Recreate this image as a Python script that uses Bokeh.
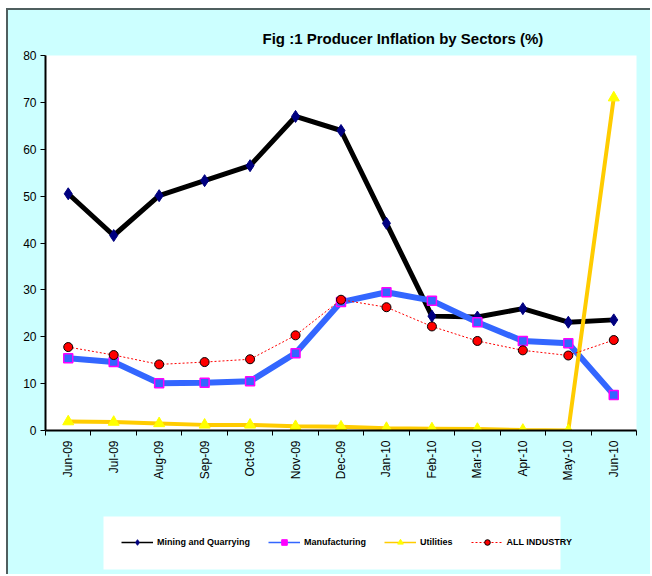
import math
from bokeh.plotting import figure
from bokeh.models import FixedTicker, Legend, LegendItem, Range1d, BoxAnnotation
from bokeh.layouts import column
from bokeh.embed import file_html
from bokeh.resources import INLINE

months = ["Jun-09", "Jul-09", "Aug-09", "Sep-09", "Oct-09", "Nov-09", "Dec-09",
          "Jan-10", "Feb-10", "Mar-10", "Apr-10", "May-10", "Jun-10"]
mining = [50.5, 41.6, 50.1, 53.3, 56.5, 67.0, 64.0, 44.2, 24.4, 24.2, 26.0, 23.1, 23.6]
manufacturing = [15.4, 14.6, 10.1, 10.2, 10.5, 16.5, 27.4, 29.5, 27.7, 23.1, 19.1, 18.6, 7.6]
utilities = [1.9, 1.8, 1.5, 1.2, 1.2, 0.9, 0.8, 0.5, 0.4, 0.3, 0.1, 0.0, 71.0]
all_industry = [17.8, 16.1, 14.1, 14.6, 15.2, 20.3, 27.9, 26.3, 22.2, 19.1, 17.1, 16.0, 19.3]
series_names = ["Mining and Quarrying", "Manufacturing", "Utilities", "ALL INDUSTRY"]
y_ticks = [0, 10, 20, 30, 40, 50, 60, 70, 80]

x = list(range(len(months)))
FONT = "Liberation Sans"
CYAN = "#CCFFFF"

p = figure(width=642, height=500, output_backend="svg", toolbar_location=None,
           x_range=Range1d(-0.5, len(months) - 0.5), y_range=Range1d(0, 80),
           min_border_left=37, min_border_right=14, min_border_top=45, min_border_bottom=80,
           background_fill_color="white", border_fill_color=CYAN,
           outline_line_color=None,
           title="Fig :1 Producer Inflation by Sectors (%)")

p.title.align = "left"
p.title.offset = 217
p.title.text_font = FONT
p.title.text_font_size = "15px"
p.title.text_font_style = "bold"
p.title.text_color = "black"
p.title.standoff = 17

p.xgrid.visible = False
p.ygrid.visible = False

# y axis
p.yaxis.ticker = FixedTicker(ticks=y_ticks)
p.yaxis.axis_line_color = "black"
p.yaxis.axis_line_width = 2
p.yaxis.major_tick_out = 5
p.yaxis.major_tick_in = 0
p.yaxis.minor_tick_line_color = None
p.yaxis.major_label_text_font = FONT
p.yaxis.major_label_text_font_size = "12px"
p.yaxis.major_label_text_color = "black"
p.yaxis.major_label_standoff = 4

# x axis
p.xaxis.ticker = FixedTicker(ticks=x, minor_ticks=[i - 0.5 for i in range(len(months) + 1)])
p.xaxis.major_label_overrides = {i: m for i, m in enumerate(months)}
p.xaxis.major_tick_line_color = None
p.xaxis.major_tick_out = 5
p.xaxis.minor_tick_line_color = "black"
p.xaxis.minor_tick_out = 5
p.xaxis.minor_tick_in = 0
p.xaxis.axis_line_color = "black"
p.xaxis.axis_line_width = 2
p.xaxis.major_label_orientation = math.pi / 2
p.xaxis.major_label_text_font = FONT
p.xaxis.major_label_text_font_size = "12px"
p.xaxis.major_label_text_color = "black"
p.xaxis.major_label_standoff = 5

styles = [
    dict(line=dict(line_color="black", line_width=5),
         marker=dict(marker="diamond", size=12, fill_color="#000080", line_color="#000080")),
    dict(line=dict(line_color="#3366FF", line_width=6),
         marker=dict(marker="square", size=9, fill_color="#3366FF", line_color="#FF00FF", line_width=1.5)),
    dict(line=dict(line_color="#FFCC00", line_width=4),
         marker=dict(marker="triangle", size=11, fill_color="#FFFF00", line_color="#FFFF00")),
    dict(line=dict(line_color="#FF0000", line_width=1, line_dash="2 2"),
         marker=dict(marker="circle", size=9, fill_color="#FF0000", line_color="black", line_width=1)),
]
legend_styles = [
    dict(line=dict(line_color="black", line_width=1.5),
         marker=dict(marker="diamond", size=8, fill_color="#000080", line_color="#000080")),
    dict(line=dict(line_color="#3366FF", line_width=1.5),
         marker=dict(marker="square", size=6, fill_color="#FF00FF", line_color="#FF00FF")),
    dict(line=dict(line_color="#FFCC00", line_width=1.5),
         marker=dict(marker="triangle", size=7, fill_color="#FFFF00", line_color="#FFFF00")),
    dict(line=dict(line_color="#FF0000", line_width=1, line_dash="2 2"),
         marker=dict(marker="circle", size=6, fill_color="#FF0000", line_color="black", line_width=1)),
]
data = [mining, manufacturing, utilities, all_industry]

for ys, st in zip(data, styles):
    p.line(x, ys, **st["line"])
    p.scatter(x, ys, **st["marker"])

# legend strip below the chart (same side borders as the chart, so the frames align)
lg = figure(width=642, height=64, output_backend="svg", toolbar_location=None,
            x_range=Range1d(1000, 1001), y_range=Range1d(1000, 1001),
            min_border_left=37, min_border_right=14, min_border_top=0, min_border_bottom=0,
            background_fill_color=CYAN, border_fill_color=CYAN, outline_line_color=None,
            x_axis_location=None, y_axis_location=None)
lg.xgrid.visible = False
lg.ygrid.visible = False
lg.add_layout(BoxAnnotation(left=58, right=515, bottom=5, top=58,
                            left_units="screen", right_units="screen",
                            top_units="screen", bottom_units="screen",
                            fill_color="white", fill_alpha=1.0, line_color=None,
                            level="underlay"))
items = []
for name, ys, st in zip(series_names, data, legend_styles):
    rl = lg.line(x, ys, **st["line"])
    rm = lg.scatter(x, ys, **st["marker"])
    items.append(LegendItem(label=name, renderers=[rl, rm]))

legend = Legend(items=items, orientation="horizontal", location=(76, 25))
legend.label_text_font = FONT
legend.label_text_font_size = "9px"
legend.label_text_font_style = "bold"
legend.label_text_color = "black"
legend.glyph_width = 32
legend.glyph_height = 14
legend.label_standoff = 4
legend.spacing = 18
legend.padding = 0
legend.margin = 0
legend.border_line_color = None
legend.background_fill_alpha = 0.0
lg.add_layout(legend, "center")

layout = column(p, lg, spacing=0)
layout.styles = {"border-left": "2px solid #4f5f5f", "border-top": "2px solid #4f5f5f",
                 "margin-left": "6px", "margin-top": "8px", "background-color": CYAN}

open("out.html", "w").write(file_html(layout, INLINE))
